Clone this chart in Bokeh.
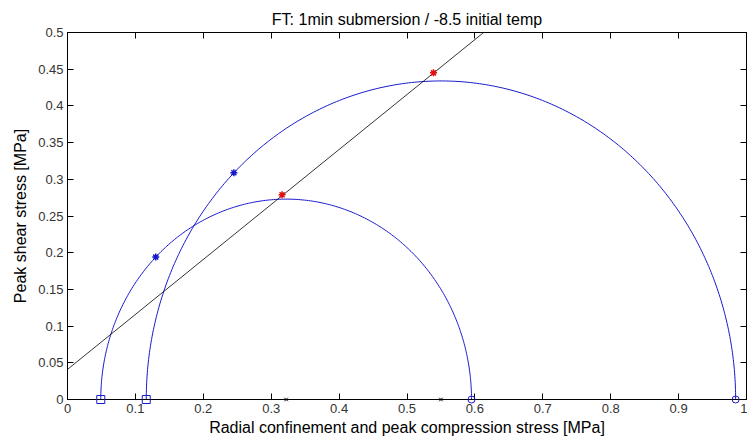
import numpy as np
from bokeh.plotting import figure
from bokeh.models import LinearAxis, FixedTicker, Range1d
from bokeh.embed import file_html
from bokeh.resources import INLINE

# ---- data ----
title_text = "FT: 1min submersion / -8.5 initial temp"
x_label = "Radial confinement and peak compression stress [MPa]"
y_label = "Peak shear stress [MPa]"

sigma3 = [0.049, 0.116]          # confinement (square markers)
sigma1 = [0.595, 0.984]          # peak compression (circle markers)
blue_star_x = [0.130, 0.245]
blue_star_y = [0.194, 0.309]
red_star_x = [0.316, 0.539]
red_star_y = [0.279, 0.445]
env_intercept = 0.041
env_slope = 0.749

x_ticks = [0, 0.1, 0.2, 0.3, 0.4, 0.5, 0.6, 0.7, 0.8, 0.9, 1.0]
x_tick_labels = ["0", "0.1", "0.2", "0.3", "0.4", "0.5", "0.6", "0.7", "0.8", "0.9", "1"]
y_ticks = [0, 0.05, 0.1, 0.15, 0.2, 0.25, 0.3, 0.35, 0.4, 0.45, 0.5]
y_tick_labels = ["0", "0.05", "0.1", "0.15", "0.2", "0.25", "0.3", "0.35", "0.4", "0.45", "0.5"]

FONT = "Liberation Sans"
BLUE = "#1a1acc"

p = figure(frame_width=679, frame_height=367, output_backend="svg", toolbar_location=None,
           x_range=Range1d(0, 1), y_range=Range1d(0, 0.5),
           min_border_left=67, min_border_top=32, min_border_bottom=44, min_border_right=1)
p.background_fill_color = "white"
p.border_fill_color = "white"
p.outline_line_color = "black"
p.grid.visible = False

p.title.text = title_text
p.title.align = "center"
p.title.text_font = FONT
p.title.text_font_size = "16px"
p.title.text_font_style = "normal"
p.title.text_color = "black"

def style_axis(ax, ticks, labels, show_labels=True):
    ax.ticker = FixedTicker(ticks=ticks)
    ax.major_label_overrides = {t: l for t, l in zip(ticks, labels)}
    ax.major_tick_in = 6
    ax.major_tick_out = 0
    ax.minor_tick_in = 0
    ax.minor_tick_out = 0
    ax.axis_line_color = "black"
    ax.major_tick_line_color = "black"
    ax.major_label_text_font = FONT
    ax.major_label_text_font_size = "13px" if show_labels else "0px"
    ax.major_label_text_color = "#333333"
    ax.major_label_standoff = 4
    ax.axis_label_text_font = FONT
    ax.axis_label_text_font_size = "16px"
    ax.axis_label_text_font_style = "normal"
    ax.axis_label_text_color = "black"

style_axis(p.xaxis[0], x_ticks, x_tick_labels)
style_axis(p.yaxis[0], y_ticks, y_tick_labels)
p.xaxis[0].axis_label = x_label
p.yaxis[0].axis_label = y_label
p.xaxis[0].axis_label_standoff = 3
p.yaxis[0].axis_label_standoff = 6

top_ax = LinearAxis()
style_axis(top_ax, x_ticks, ["" for _ in x_ticks], show_labels=False)
p.add_layout(top_ax, "above")
right_ax = LinearAxis()
style_axis(right_ax, y_ticks, ["" for _ in y_ticks], show_labels=False)
p.add_layout(right_ax, "right")

# Mohr semicircles
t = np.linspace(0, np.pi, 300)
for s3, s1 in zip(sigma3, sigma1):
    c = (s1 + s3) / 2.0
    r = (s1 - s3) / 2.0
    p.line(c + r * np.cos(t), r * np.sin(t), line_color=BLUE, line_width=1)

# failure envelope
ex = np.array([0.0, 1.0])
p.line(ex, env_intercept + env_slope * ex, line_color="black", line_width=0.8)

zeros = [0.0] * len(sigma3)
centers = [(a + b) / 2.0 for a, b in zip(sigma3, sigma1)]
p.scatter(sigma3, zeros, marker="square", size=8, fill_color=None, line_color=BLUE,
          line_width=1, level="overlay")
p.scatter(sigma1, zeros, marker="circle", size=7, fill_color=None, line_color=BLUE,
          line_width=1, level="overlay")
p.scatter(centers, zeros, marker="x", size=5, line_color="black", line_width=1, level="overlay")
p.scatter(blue_star_x, blue_star_y, marker="asterisk", size=7, line_color=BLUE, line_width=1.5)
p.scatter(red_star_x, red_star_y, marker="asterisk", size=7, line_color="#e01010", line_width=1.5)

open("out.html", "w").write(file_html(p, INLINE))
